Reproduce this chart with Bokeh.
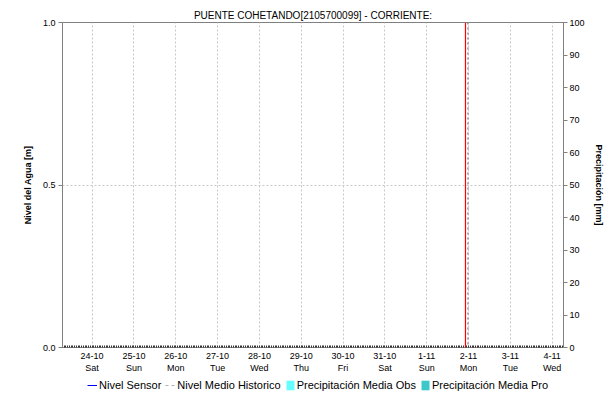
from datetime import datetime, timedelta
from bokeh.plotting import figure
from bokeh.layouts import column
from bokeh.models import (Range1d, LinearAxis, FixedTicker, Span, Legend, LegendItem,
                          PrintfTickFormatter)
from bokeh.embed import file_html
from bokeh.resources import INLINE

# ---------------- data ----------------
title_text = "PUENTE COHETANDO[2105700099] - CORRIENTE:"
day_dates = [datetime(2020, 10, 24) + timedelta(days=i) for i in range(12)]
day_labels = ["24-10\nSat", "25-10\nSun", "26-10\nMon", "27-10\nTue", "28-10\nWed",
              "29-10\nThu", "30-10\nFri", "31-10\nSat", "1-11\nSun", "2-11\nMon",
              "3-11\nTue", "4-11\nWed"]
x_start = datetime(2020, 10, 23, 7, 0)
x_end = datetime(2020, 11, 4, 6, 30)
now_time = datetime(2020, 11, 1, 22, 15)
last_data_time = datetime(2020, 11, 1, 23, 40)

nivel_ticks = [0.0, 0.5, 1.0]
precip_ticks = [0, 10, 20, 30, 40, 50, 60, 70, 80, 90, 100]

# series: no measured values are visible in the reference (missing = NaN)
nan = float("nan")
sensor_t, sensor_v = [datetime(2020, 11, 1, 23, 0)], [nan]
hist_t, hist_v = [datetime(2020, 11, 1, 23, 0)], [nan]
obs_t, obs_v = [datetime(2020, 11, 1, 12, 0)], [nan]
pro_t, pro_v = [datetime(2020, 11, 2, 12, 0)], [nan]

legend_labels = ["Nivel Sensor", "Nivel Medio Historico",
                 "Precipitación Media Obs", "Precipitación Media Pro"]

FONT = "Liberation Sans"
C_SENSOR = "#0000ff"
C_HIST = "#b0b0b0"
C_OBS = "#66ffff"
C_PRO = "#3cc8c8"
TXT = "#000000"

def ms(d):
    return (d - datetime(1970, 1, 1)).total_seconds() * 1000.0

W = 608
p = figure(width=W, height=375, output_backend="svg", toolbar_location=None,
           x_axis_type="datetime",
           x_range=Range1d(x_start, x_end), y_range=Range1d(0, 1),
           min_border_left=62, min_border_right=W - 563, min_border_top=22, min_border_bottom=27)
p.title.text = title_text
p.title.align = "center"
p.title.text_font = FONT
p.title.text_font_size = "10px"
p.title.text_font_style = "normal"
p.title.text_color = TXT
p.title.offset = 0
p.title.standoff = 4

p.outline_line_color = "#808080"
p.background_fill_color = "white"
p.border_fill_color = "white"

major = [ms(d) for d in day_dates]
minor = [ms(x_start) + i * 3600000.0 for i in range(0, 12 * 24 + 2)]
xa = p.xaxis[0]
xa.ticker = FixedTicker(ticks=major, minor_ticks=minor)
xa.major_label_overrides = {ms(d): lab for d, lab in zip(day_dates, day_labels)}
xa.major_label_text_font = FONT
xa.major_label_text_font_size = "9px"
xa.major_label_text_color = TXT
xa.major_label_standoff = 3
xa.major_tick_out = 0
xa.major_tick_in = 0
xa.minor_tick_in = 2
xa.minor_tick_out = 0
xa.minor_tick_line_color = "#333333"
xa.axis_line_color = "#808080"

ya = p.yaxis[0]
ya.ticker = FixedTicker(ticks=nivel_ticks)
ya.formatter = PrintfTickFormatter(format="%.1f")
ya.axis_label = "Nivel del Agua [m]"
ya.axis_label_text_font = FONT
ya.axis_label_text_font_size = "9px"
ya.axis_label_text_font_style = "bold"
ya.axis_label_text_color = TXT
ya.axis_label_standoff = 7
ya.major_label_text_font = FONT
ya.major_label_text_font_size = "9px"
ya.major_label_text_color = TXT
ya.major_label_standoff = 3
ya.major_tick_out = 4
ya.major_tick_in = 0
ya.minor_tick_out = 0
ya.minor_tick_in = 0
ya.axis_line_color = "#808080"
ya.major_tick_line_color = "#808080"

p.extra_y_ranges = {"precip": Range1d(0, 100)}
ra = LinearAxis(y_range_name="precip", ticker=FixedTicker(ticks=precip_ticks))
ra.axis_label = "Precipitación [mm]"
ra.axis_label_text_font = FONT
ra.axis_label_text_font_size = "9px"
ra.axis_label_text_font_style = "bold"
ra.axis_label_text_color = TXT
ra.axis_label_standoff = 6
ra.major_label_text_font = FONT
ra.major_label_text_font_size = "9px"
ra.major_label_text_color = TXT
ra.major_label_standoff = 2
ra.major_tick_out = 4
ra.major_tick_in = 0
ra.minor_tick_out = 0
ra.minor_tick_in = 0
ra.axis_line_color = "#808080"
ra.major_tick_line_color = "#808080"
p.add_layout(ra, "right")

p.xgrid.grid_line_color = "#c8c8c8"
p.xgrid.grid_line_dash = "2 2"
p.ygrid.grid_line_color = "#c8c8c8"
p.ygrid.grid_line_dash = "2 2"

# data renderers
p.vbar(x=obs_t, top=obs_v, width=3600000 * 20, y_range_name="precip",
       fill_color=C_OBS, line_color=None)
p.vbar(x=pro_t, top=pro_v, width=3600000 * 20, y_range_name="precip",
       fill_color=C_PRO, line_color=None)
p.line(x=hist_t, y=hist_v, line_color=C_HIST, line_dash="3 3", line_width=1)
p.line(x=sensor_t, y=sensor_v, line_color=C_SENSOR, line_width=1)

p.add_layout(Span(location=ms(now_time), dimension="height", line_color="#ff0000", line_width=1.2))
p.add_layout(Span(location=ms(last_data_time), dimension="height", line_color="#666666",
                  line_width=1, line_dash="2 3"))

# ---------------- legend strip ----------------
lf = figure(width=W, height=20, output_backend="svg", toolbar_location=None,
            x_axis_location=None, y_axis_location=None,
            x_range=Range1d(0, 1), y_range=Range1d(0, 1),
            min_border=0, min_border_left=0, min_border_right=0,
            min_border_top=0, min_border_bottom=0)
lf.grid.visible = False
lf.outline_line_color = None
l_sensor = lf.line(x=sensor_t, y=sensor_v, line_color=C_SENSOR, line_width=1)
l_hist = lf.line(x=hist_t, y=hist_v, line_color=C_HIST, line_dash="3 3", line_width=1)
l_obs = lf.vbar(x=obs_t, top=obs_v, width=0.1, fill_color=C_OBS, line_color=None)
l_pro = lf.vbar(x=pro_t, top=pro_v, width=0.1, fill_color=C_PRO, line_color=None)

legend = Legend(items=[
    LegendItem(label=legend_labels[0], renderers=[l_sensor]),
    LegendItem(label=legend_labels[1], renderers=[l_hist]),
    LegendItem(label=legend_labels[2], renderers=[l_obs]),
    LegendItem(label=legend_labels[3], renderers=[l_pro]),
], orientation="horizontal", location=(25, 4))
legend.label_text_font = FONT
legend.label_text_font_size = "11px"
legend.label_text_color = TXT
legend.glyph_width = 10
legend.glyph_height = 12
legend.label_standoff = 2
legend.spacing = 4
legend.padding = 2
legend.margin = 0
legend.border_line_color = None
legend.background_fill_alpha = 0
legend.label_height = 12
lf.add_layout(legend, "center")

open("out.html", "w").write(file_html(column(p, lf, spacing=0), INLINE))
